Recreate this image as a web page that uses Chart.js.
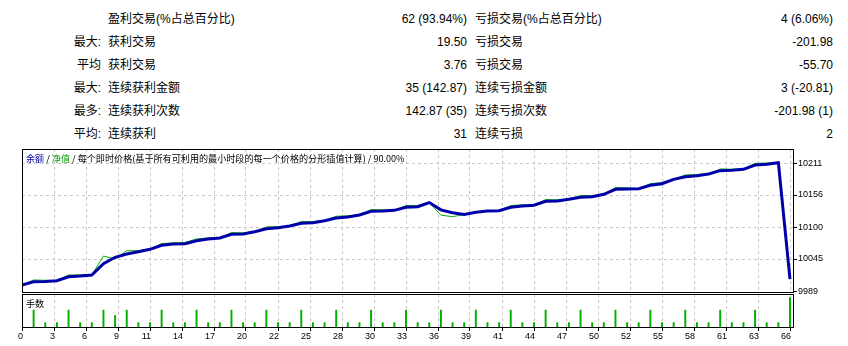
<!DOCTYPE html>
<html>
<head>
<meta charset="utf-8">
<script src="https://cdn.jsdelivr.net/npm/chart.js@4.4.1/dist/chart.umd.min.js"></script>
<style>
  body { margin: 0; background: #fff; }
  #page { position: relative; width: 848px; height: 346px; overflow: hidden; font-family: "Liberation Sans", "Noto Sans CJK SC", sans-serif; color: #000; }
  .cell { position: absolute; font-size: 12px; line-height: 14px; white-space: nowrap; }
  .note { position: absolute; font-family: "Noto Sans CJK SC", sans-serif; font-size: 9.1px; line-height: 12px; white-space: nowrap; }
  canvas { position: absolute; left: 0; }
</style>
</head>
<body>
<div id="page">
  <div id="stats"></div>
  <canvas id="balanceChart" width="848" height="160" style="top:140px"></canvas>
  <canvas id="lotsChart" width="848" height="56" style="top:290px"></canvas>
  <div class="note" style="left:26px;top:152px"><span style="color:#0000aa">余额</span> / <span style="color:#00a000">净值</span> / 每个即时价格(基于所有可利用的最小时段的每一个价格的分形插值计算) / 90.00%</div>
  <div class="note" style="left:26px;top:297px">手数</div>
</div>
<script>
// report table
const statPrefix = ['', '最大:', '平均', '最大:', '最多:', '平均:'];
const winLabels = ['盈利交易(%占总百分比)', '获利交易', '获利交易', '连续获利金额', '连续获利次数', '连续获利'];
const winValues = ['62 (93.94%)', '19.50', '3.76', '35 (142.87)', '142.87 (35)', '31'];
const lossLabels = ['亏损交易(%占总百分比)', '亏损交易', '亏损交易', '连续亏损金额', '连续亏损次数', '连续亏损'];
const lossValues = ['4 (6.06%)', '-201.98', '-55.70', '3 (-20.81)', '-201.98 (1)', '2'];

// balance / equity after each trade (index 0 = start)
const balance = [
  10000.00, 10005.60, 10006.10, 10007.40, 10014.30, 10015.50, 10017.30, 10036.80, 10048.00, 10053.70,
  10057.70, 10061.80, 10068.80, 10071.00, 10071.60, 10076.80, 10079.70, 10081.40, 10087.80, 10088.40,
  10092.40, 10097.60, 10099.30, 10102.20, 10106.90, 10108.00, 10111.50, 10116.10, 10117.90, 10121.30,
  10127.70, 10128.30, 10129.40, 10134.70, 10135.70, 10142.87, 10130.21, 10125.36, 10122.06, 10126.00,
  10128.30, 10128.90, 10134.70, 10137.00, 10138.20, 10145.10, 10145.70, 10148.60, 10152.00, 10153.10,
  10157.20, 10165.90, 10166.50, 10167.00, 10172.80, 10175.60, 10183.20, 10187.80, 10189.50, 10192.40,
  10198.20, 10198.80, 10200.60, 10208.00, 10209.40, 10212.00, 10010.02
];
const equity = [
  10000.00, 10008.60, 10008.10, 10007.40, 10017.30, 10017.50, 10017.30, 10050.20, 10045.00, 10059.40,
  10059.40, 10061.80, 10071.80, 10073.00, 10073.60, 10079.80, 10081.70, 10081.40, 10090.80, 10090.40,
  10092.40, 10100.60, 10101.30, 10102.20, 10109.90, 10110.00, 10111.50, 10119.10, 10119.90, 10121.30,
  10130.70, 10130.30, 10129.40, 10137.70, 10137.70, 10142.87, 10121.00, 10118.50, 10122.06, 10126.00,
  10128.30, 10128.90, 10137.70, 10139.00, 10138.20, 10148.10, 10147.70, 10148.60, 10155.00, 10155.10,
  10157.20, 10168.90, 10168.50, 10167.00, 10175.80, 10177.60, 10183.20, 10190.80, 10191.50, 10192.40,
  10201.20, 10200.80, 10200.60, 10211.00, 10211.40, 10212.00, 10010.02
];
// lots of trades 1..66
const lots = [
  0.10, 0.03, 0.03, 0.10, 0.03, 0.03, 0.10, 0.07, 0.10,
  0.03, 0.03, 0.10, 0.03, 0.03, 0.10, 0.03, 0.03, 0.10, 0.03, 0.03, 0.10,
  0.03, 0.03, 0.10, 0.03, 0.03, 0.10, 0.03, 0.03, 0.10, 0.03, 0.03, 0.10,
  0.03, 0.03, 0.10, 0.03, 0.03, 0.10, 0.03, 0.03, 0.10, 0.03, 0.03, 0.10,
  0.03, 0.03, 0.10, 0.03, 0.03, 0.10, 0.03, 0.03, 0.10, 0.03, 0.03, 0.10,
  0.03, 0.03, 0.10, 0.03, 0.03, 0.10,
  0.03, 0.03, 0.17
];
const xTickLabels = ['0', '3', '6', '9', '11', '14', '17', '20', '22', '25', '28', '30', '33',
  '36', '39', '41', '44', '47', '50', '52', '55', '58', '61', '63', '66'];
const yTicks = [9989, 10045, 10100, 10156, 10211];

// build the table
const stats = document.getElementById('stats');
function cell(text, top, left, right) {
  const d = document.createElement('div');
  d.className = 'cell';
  d.textContent = text;
  d.style.top = top + 'px';
  if (left != null) d.style.left = left + 'px';
  if (right != null) { d.style.right = right + 'px'; d.style.textAlign = 'right'; }
  stats.appendChild(d);
}
statPrefix.forEach((p, i) => {
  const top = 12 + i * 23;
  cell(p, top, null, 747);
  cell(winLabels[i], top, 108, null);
  cell(winValues[i], top, null, 381);
  cell(lossLabels[i], top, 475, null);
  cell(lossValues[i], top, null, 15);
});

const frame = {
  id: 'frame',
  afterDraw(chart) {
    const { ctx, chartArea: a } = chart;
    ctx.save();
    ctx.strokeStyle = '#000';
    ctx.lineWidth = 1;
    ctx.strokeRect(a.left + 0.5, a.top + 0.5, a.right - a.left - 1, a.bottom - a.top - 1);
    ctx.restore();
  }
};

const tickFont = { family: 'Liberation Sans', size: 9 };
const xMax = 66 * 772 / 768;
const xTickPos = xTickLabels.map((_, i) => i * 66 / 24);
const gridGray = '#c8c8c8';

new Chart(document.getElementById('balanceChart'), {
  type: 'line',
  data: {
    datasets: [
      { label: '余额', data: balance.map((v, i) => ({ x: i, y: v })), borderColor: '#0000aa', borderWidth: 3, pointRadius: 0, tension: 0 },
      { label: '净值', data: equity.map((v, i) => ({ x: i, y: v })), borderColor: '#00b000', borderWidth: 1, pointRadius: 0, tension: 0 }
    ]
  },
  options: {
    responsive: false,
    animation: false,
    layout: { padding: { left: 22, top: 9, right: 0, bottom: 7 } },
    plugins: { legend: { display: false }, tooltip: { enabled: false } },
    scales: {
      x: {
        type: 'linear', min: 0, max: xMax,
        afterBuildTicks: s => { s.ticks = xTickPos.map(v => ({ value: v })); },
        afterFit: s => { s.height = 0; },
        ticks: { display: false },
        grid: { color: gridGray, drawTicks: false },
        border: { display: false, dash: [3, 3] }
      },
      y: {
        position: 'right', min: 9986.05, max: 10235.8,
        afterBuildTicks: s => { s.ticks = yTicks.map(v => ({ value: v })); },
        afterFit: s => { s.width = 54; },
        ticks: { callback: v => String(v), font: tickFont, color: '#000', padding: 1 },
        grid: { color: c => c.index === 0 ? 'rgba(0,0,0,0)' : gridGray, tickColor: '#000', tickLength: 3, tickBorderDash: [] },
        border: { display: false, dash: [3, 3] }
      }
    }
  },
  plugins: [frame]
});

new Chart(document.getElementById('lotsChart'), {
  type: 'bar',
  data: {
    datasets: [
      { label: '手数', data: lots.map((v, i) => ({ x: i + 1, y: v })), backgroundColor: '#00b000', barThickness: 1.3, maxBarThickness: 1.3 }
    ]
  },
  options: {
    responsive: false,
    animation: false,
    layout: { padding: { left: 22, top: 4, right: 54, bottom: 4 } },
    plugins: { legend: { display: false }, tooltip: { enabled: false } },
    scales: {
      x: {
        type: 'linear', min: 0, max: xMax, offset: false,
        afterBuildTicks: s => { s.ticks = xTickPos.map(v => ({ value: v })); },
        afterFit: s => { s.height = 14; },
        ticks: { callback: (v, i) => xTickLabels[i], align: 'end', labelOffset: 1, padding: 0, maxRotation: 0, autoSkip: false, font: tickFont, color: '#000' },
        grid: { color: gridGray, offset: false, tickColor: '#000', tickLength: 3, tickBorderDash: [] },
        border: { display: false, dash: [3, 3] }
      },
      y: { display: false, min: 0, max: 0.19 }
    }
  },
  plugins: [frame]
});
</script>
</body>
</html>
